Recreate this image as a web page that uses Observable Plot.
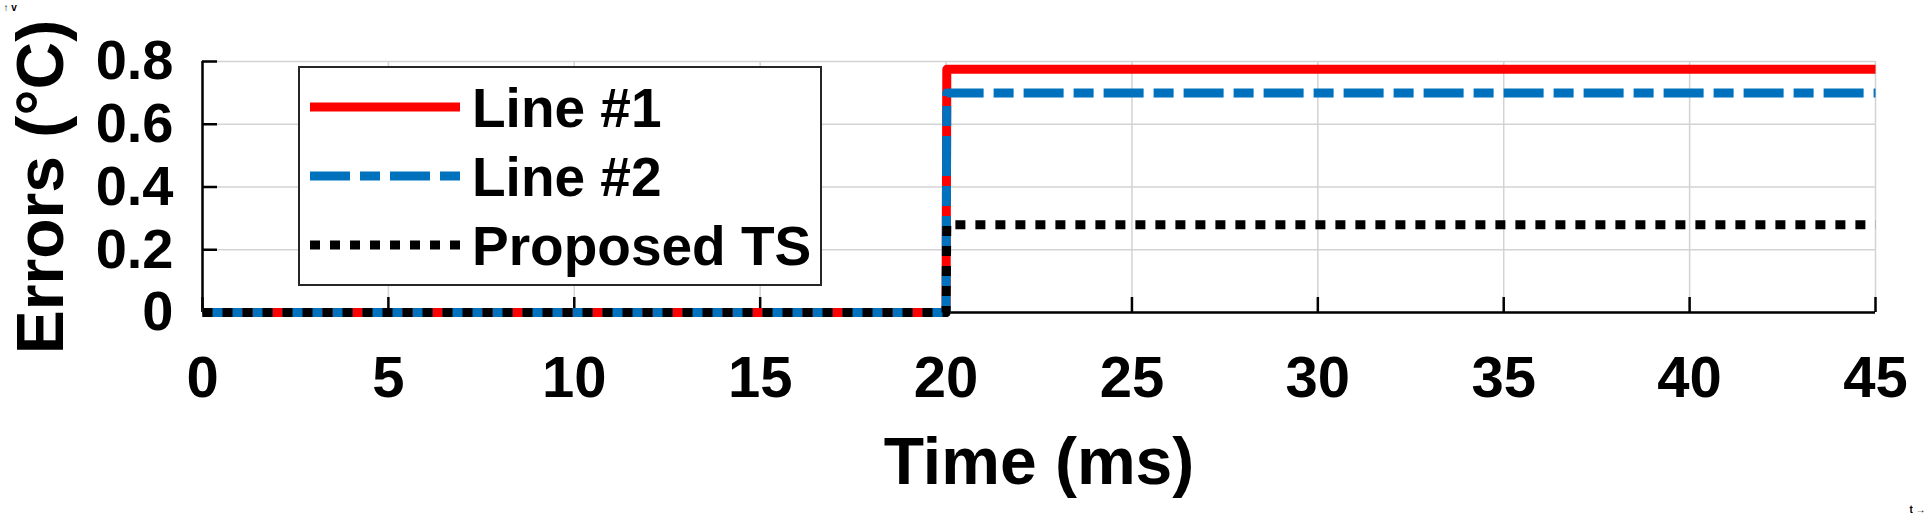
<!DOCTYPE html>
<html><head><meta charset="utf-8">
<script src="https://cdn.jsdelivr.net/npm/d3@7"></script>
<script src="https://cdn.jsdelivr.net/npm/@observablehq/plot@0.6"></script>
<style>
html,body{margin:0;padding:0;background:#fff;}
#chart{position:relative;width:1928px;height:515px;}
</style></head><body><div id="chart"></div>
<script>
// ---- data ----
const time = [0, 20, 20.02, 45];
const line1 = [0, 0, 0.775, 0.775];
const line2 = [0, 0, 0.70, 0.70];
const proposedTS = [0, 0, 0.28, 0.28];
const seriesNames = ["Line #1", "Line #2", "Proposed TS"];
const seriesColors = ["#ff0000", "#0072bd", "#000000"];
const seriesDash = [null, "40,10,20,10", "10,10"];
const xTicks = [0, 5, 10, 15, 20, 25, 30, 35, 40, 45];
const yTicks = [0, 0.2, 0.4, 0.6, 0.8];
const yTickLabels = ["0", "0.2", "0.4", "0.6", "0.8"];
const xLabel = "Time (ms)";
const yLabel = "Errors (°C)";

const seriesValues = [line1, line2, proposedTS];
const rows = seriesValues.map((vals, s) => time.map((t, i) => ({t, v: vals[i], s})));

const FONT = '"Liberation Sans", Arial, Helvetica, sans-serif';
const grid = {stroke: "#d3d3d3", strokeOpacity: 1, strokeWidth: 1.5};

const plot = Plot.plot({
  width: 1928,
  height: 515,
  marginLeft: 202,
  marginRight: 53,
  marginTop: 61,
  marginBottom: 203,
  style: {fontFamily: FONT, fontWeight: "bold", background: "#fff", color: "#000", overflow: "visible"},
  x: {domain: [0, 45], axis: null},
  y: {domain: [0, 0.8], axis: null},
  marks: [
    Plot.gridX(xTicks, grid),
    Plot.gridY(yTicks, grid),
    Plot.ruleX([0], {stroke: "#000", strokeWidth: 2.5}),
    Plot.ruleY([0], {stroke: "#000", strokeWidth: 2.5}),
    Plot.axisX(xTicks, {anchor: "bottom", text: null, tickSize: 15, dy: -15, strokeWidth: 2.5, stroke: "#000"}),
    Plot.axisY(yTicks, {anchor: "left", text: null, tickSize: 15, dx: 15, strokeWidth: 2.5, stroke: "#000"}),
    Plot.axisX(xTicks, {anchor: "bottom", tickSize: 0, tickPadding: 43, fontSize: 58, fontWeight: "bold", fill: "#000", label: null, tickFormat: d => String(d)}),
    Plot.axisY(yTicks, {anchor: "left", tickSize: 0, tickPadding: 29, fontSize: 56, fontWeight: "bold", fill: "#000", label: null, tickFormat: d => yTickLabels[yTicks.indexOf(d)]}),
    ...rows.map((r, s) => Plot.line(r, {
      x: "t", y: "v",
      stroke: seriesColors[s], strokeWidth: 9,
      strokeDasharray: seriesDash[s] ?? undefined,
      strokeLinecap: "butt", strokeLinejoin: "round"
    })),
    Plot.text([xLabel], {frameAnchor: "bottom", dy: 150, fontSize: 66, fontWeight: "bold", fill: "#000", lineAnchor: "middle", textAnchor: "middle"}),
    Plot.text([yLabel], {frameAnchor: "left", dx: -161, rotate: -90, fontSize: 66, fontWeight: "bold", fill: "#000", lineAnchor: "middle", textAnchor: "middle"})
  ]
});
document.getElementById("chart").appendChild(plot);

// ---- legend (inside the axes, top-left) ----
const svg = d3.select(plot);
const lg = svg.append("g").attr("font-family", FONT).attr("font-weight", "bold").attr("text-anchor", "start");
lg.append("rect").attr("x", 299).attr("y", 67).attr("width", 522).attr("height", 218)
  .attr("fill", "#fff").attr("stroke", "#262626").attr("stroke-width", 2);
seriesNames.forEach((name, i) => {
  const y = 107 + i * 69;
  lg.append("line").attr("x1", 310).attr("x2", 460).attr("y1", y).attr("y2", y)
    .attr("stroke", seriesColors[i]).attr("stroke-width", 9)
    .attr("stroke-dasharray", seriesDash[i]).attr("stroke-linecap", "butt");
  lg.append("text").attr("x", 472).attr("y", y + 20).attr("font-size", 55)
    .attr("text-anchor", "start").attr("fill", "#000").text(name);
});
</script></body></html>
